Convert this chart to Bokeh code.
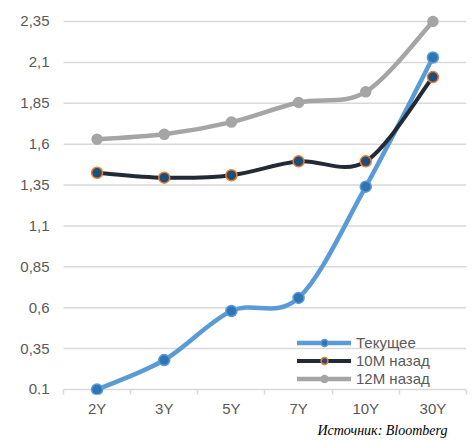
from bokeh.plotting import figure
from bokeh.models import Range1d, FixedTicker, Legend, LegendItem, Title
from bokeh.core.properties import value
from bokeh.embed import file_html
from bokeh.resources import INLINE

# Yield curve points by tenor
tenors = ["2Y", "3Y", "5Y", "7Y", "10Y", "30Y"]
current = [0.10, 0.28, 0.58, 0.66, 1.34, 2.13]
ago_10m = [1.425, 1.395, 1.41, 1.495, 1.495, 2.01]
ago_12m = [1.63, 1.66, 1.735, 1.855, 1.92, 2.35]

series_names = ["Текущее", "10M назад", "12M назад"]

y_ticks = [0.1, 0.35, 0.6, 0.85, 1.1, 1.35, 1.6, 1.85, 2.1, 2.35]
y_tick_labels = ["0,1", "0,35", "0,6", "0,85", "1,1", "1,35", "1,6", "1,85", "2,1", "2,35"]

source_text = "Источник: Bloomberg"

FONT = "Liberation Sans"
TEXT_COLOR = "#595959"
GRID_COLOR = "#d9d9d9"

n_cat = len(tenors)
# category centres on a numeric axis, boundaries carry the tick marks
xs = [i + 0.5 for i in range(n_cat)]
bounds = [float(i) for i in range(n_cat + 1)]

# the value labels sit left of the category area, inside the plotting frame
CAT_PX = 67.17          # pixel width of one category
LEFT_PAD = 63           # pixels left of the first category
x_start = -LEFT_PAD / CAT_PX


def smooth_segments(x, y):
    """Cubic Bezier segments through the points (Catmull-Rom style smoothing)."""
    n = len(x)
    seg = dict(x0=[], y0=[], x1=[], y1=[], cx0=[], cy0=[], cx1=[], cy1=[])
    for i in range(n - 1):
        ip = max(i - 1, 0)
        inn = min(i + 2, n - 1)
        seg["x0"].append(x[i]); seg["y0"].append(y[i])
        seg["x1"].append(x[i + 1]); seg["y1"].append(y[i + 1])
        seg["cx0"].append(x[i] + (x[i + 1] - x[ip]) / 6.0)
        seg["cy0"].append(y[i] + (y[i + 1] - y[ip]) / 6.0)
        seg["cx1"].append(x[i + 1] - (x[inn] - x[i]) / 6.0)
        seg["cy1"].append(y[i + 1] - (y[inn] - y[i]) / 6.0)
    return seg


p = figure(
    width=475, height=441,
    x_range=Range1d(x_start, n_cat),
    y_range=Range1d(0.0694, 2.4233),
    output_backend="svg", toolbar_location=None,
    min_border_left=0, min_border_right=9,
    min_border_top=9, min_border_bottom=47,
)
p.outline_line_color = None
p.background_fill_color = "white"
p.border_fill_color = "white"
p.xgrid.grid_line_color = None
p.ygrid.grid_line_color = None
p.yaxis.visible = False

# horizontal gridlines across the category area
p.segment(x0=[0] * len(y_ticks), x1=[n_cat] * len(y_ticks), y0=y_ticks, y1=y_ticks,
          line_color=GRID_COLOR, line_width=1.5)

# value labels
p.text(x=[0] * len(y_ticks), y=y_ticks, text=y_tick_labels,
       x_offset=-14, text_align="right", text_baseline="middle",
       text_font=value(FONT), text_font_size="15px", text_color=TEXT_COLOR)

styles = [
    dict(line="#5b9bd5", width=4.5, fill="#2e75b6", edge="#5b9bd5", size=11),
    dict(line="#222a35", width=4.0, fill="#1f4e79", edge="#ed7d31", size=11),
    dict(line="#a5a5a5", width=4.5, fill="#a5a5a5", edge="#a5a5a5", size=10),
]

items = []
for name, vals, st in zip(series_names, [current, ago_10m, ago_12m], styles):
    seg = smooth_segments(xs, vals)
    r_line = p.bezier(
        x0=seg["x0"], y0=seg["y0"], x1=seg["x1"], y1=seg["y1"],
        cx0=seg["cx0"], cy0=seg["cy0"], cx1=seg["cx1"], cy1=seg["cy1"],
        line_color=st["line"], line_width=st["width"], line_cap="round",
    )
    r_pts = p.scatter(
        xs, vals, size=st["size"], marker="circle",
        fill_color=st["fill"], line_color=st["edge"], line_width=1.5,
    )
    items.append(LegendItem(label=name, renderers=[r_line, r_pts]))

legend = Legend(
    items=items, location=(297, 7),
    background_fill_alpha=0, border_line_color=None,
    padding=0, margin=0, spacing=1,
    glyph_width=54, glyph_height=17, label_height=17,
    label_standoff=5,
    label_text_font=FONT, label_text_font_size="15px",
    label_text_color=TEXT_COLOR,
)
p.add_layout(legend)

# x axis: labels at centres, tick marks at category boundaries
p.xaxis.ticker = FixedTicker(ticks=xs, minor_ticks=bounds)
p.xaxis.major_label_overrides = dict(zip(xs, tenors))
p.xaxis.axis_line_color = None
p.xaxis.major_tick_line_color = None
p.xaxis.major_tick_out = 0
p.xaxis.minor_tick_line_color = GRID_COLOR
p.xaxis.minor_tick_line_width = 1.5
p.xaxis.minor_tick_in = 5
p.xaxis.minor_tick_out = 0
p.xaxis.major_label_standoff = 5
p.xaxis.major_label_text_font = FONT
p.xaxis.major_label_text_font_size = "15px"
p.xaxis.major_label_text_color = TEXT_COLOR

src = Title(
    text=source_text, align="right", offset=19, standoff=3,
    text_font="Liberation Serif", text_font_style="italic",
    text_font_size="14px", text_color="#000000",
)
p.add_layout(src, "below")

open("out.html", "w").write(file_html(p, INLINE))
